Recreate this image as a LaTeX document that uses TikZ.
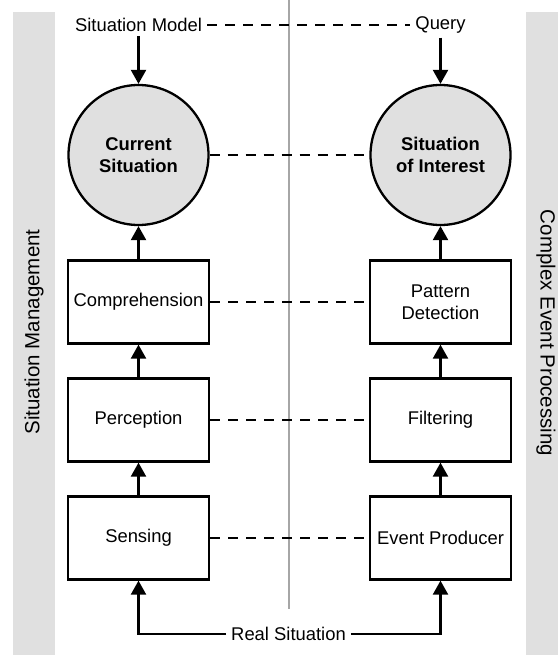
\documentclass[tikz,border=0pt]{standalone}
\usepackage{fontspec}
\setmainfont{Liberation Sans}
\usetikzlibrary{arrows.meta}
\definecolor{bandgray}{HTML}{E0E0E0}
\definecolor{midgray}{HTML}{A6A6A6}
\tikzset{
  stepbox/.style={draw, line width=2.3pt, minimum width=141pt, minimum height=83pt,
    inner sep=2pt, align=center, font=\fontsize{18.4}{22}\selectfont},
  sitcircle/.style={draw, circle, fill=bandgray, line width=2.3pt, minimum size=140pt,
    inner sep=0pt, align=center, font=\fontsize{18.4}{22}\selectfont\bfseries},
  lbl/.style={inner xsep=5pt, inner ysep=4pt, font=\fontsize{18.4}{22}\selectfont},
  sidelbl/.style={font=\fontsize{20.5}{24}\selectfont},
  flow/.style={line width=2.3pt, -{Triangle[length=14pt,width=15pt]}},
  link/.style={line width=2.2pt, dash pattern=on 10pt off 8pt},
}
\begin{document}
\begin{tikzpicture}[x=1pt,y=-1pt]
  \useasboundingbox (0,0) rectangle (558,655);
  % side bands
  \fill[bandgray] (13,12) rectangle (55,655);
  \fill[bandgray] (526,12) rectangle (558,655);
  \node[sidelbl, rotate=90] (smlbl) at (34,332) {Situation Management};
  \node[sidelbl, rotate=-90] (ceplbl) at (546,333) {Complex Event Processing};
  % divider
  \draw[midgray, line width=2pt] (288.5,0) -- (288.5,609);

  % left column
  \node[lbl] (sm) at (138.5,25) {Situation Model};
  \node[sitcircle] (cs) at (138.5,155) {Current\\Situation};
  \node[stepbox] (comp) at (138.5,302) {Comprehension};
  \node[stepbox] (perc) at (138.5,420) {Perception};
  \node[stepbox] (sens) at (138.5,538) {Sensing};

  % right column
  \node[lbl] (q) at (440.5,25) {Query};
  \node[sitcircle] (soi) at (440.5,155) {Situation\\of Interest};
  \node[stepbox] (pd) at (440.5,302) {Pattern\\Detection};
  \node[stepbox] (filt) at (440.5,420) {Filtering};
  \node[stepbox] (ep) at (440.5,538) {Event Producer};

  \node[lbl] (rs) at (288.5,634) {Real Situation};

  % flows
  \draw[flow] (sm.south) -- (cs.north);
  \draw[flow] (q.south) -- (soi.north);
  \draw[flow] (comp) -- (cs);
  \draw[flow] (perc) -- (comp);
  \draw[flow] (sens) -- (perc);
  \draw[flow] (pd) -- (soi);
  \draw[flow] (filt) -- (pd);
  \draw[flow] (ep) -- (filt);
  \draw[flow] (rs.west) -| (sens.south);
  \draw[flow] (rs.east) -| (ep.south);

  % correspondences
  \draw[link] (sm.east) -- (q.west);
  \draw[link] (cs.east) -- (soi.west);
  \draw[link] (comp.east) -- (pd.west);
  \draw[link] (perc.east) -- (filt.west);
  \draw[link] (sens.east) -- (ep.west);
\end{tikzpicture}
\end{document}
